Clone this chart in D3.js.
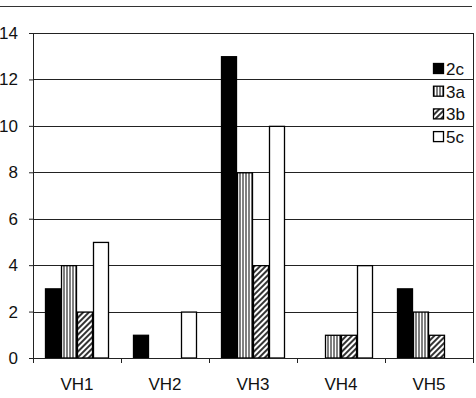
<!DOCTYPE html>
<html>
<head>
<meta charset="utf-8">
<script src="https://cdn.jsdelivr.net/npm/d3@7"></script>
<style>
  body { margin: 0; background: #fff; }
  text { font-family: "Liberation Sans", Arial, sans-serif; }
</style>
</head>
<body>
<div id="chart"></div>
<script>
// categories and series
var categories = ["VH1", "VH2", "VH3", "VH4", "VH5"];
var seriesNames = ["2c", "3a", "3b", "5c"];
var s2c = [3, 1, 13, 0, 3];
var s3a = [4, 0, 8, 1, 2];
var s3b = [2, 0, 4, 1, 1];
var s5c = [5, 2, 10, 4, 0];
var yTicks = [0, 2, 4, 6, 8, 10, 12, 14];

var seriesValues = [s2c, s3a, s3b, s5c];
var fills = ["#000", "url(#vert)", "url(#diag)", "#fff"];

var W = 476, H = 398;
var margin = {top: 33, right: 3, bottom: 40, left: 33},
    width = W - margin.left - margin.right,
    height = H - margin.top - margin.bottom;

var svg = d3.select("#chart")
  .append("svg")
    .attr("width", W)
    .attr("height", H);

// patterns
var defs = svg.append("defs");
var pv = defs.append("pattern")
    .attr("id", "vert")
    .attr("patternUnits", "userSpaceOnUse")
    .attr("width", 3).attr("height", 3);
pv.append("rect").attr("width", 3).attr("height", 3).attr("fill", "#fff");
pv.append("line").attr("x1", 1).attr("x2", 1).attr("y1", 0).attr("y2", 3)
    .attr("stroke", "#000").attr("stroke-width", 1);

var pd = defs.append("pattern")
    .attr("id", "diag")
    .attr("patternUnits", "userSpaceOnUse")
    .attr("width", 4).attr("height", 4)
    .attr("patternTransform", "rotate(45)");
pd.append("rect").attr("width", 4).attr("height", 4).attr("fill", "#fff");
pd.append("line").attr("x1", 1).attr("x2", 1).attr("y1", 0).attr("y2", 4)
    .attr("stroke", "#000").attr("stroke-width", 1.6);

// page rule at top
svg.append("line")
  .attr("x1", 0).attr("x2", 472)
  .attr("y1", 6.5).attr("y2", 6.5)
  .attr("stroke", "#333").attr("stroke-width", 1);

var g = svg.append("g")
  .attr("transform", "translate(" + margin.left + "," + margin.top + ")");

var x = d3.scaleBand()
  .domain(categories)
  .range([0, width])
  .paddingInner(0)
  .paddingOuter(0);

var x1 = d3.scaleBand()
  .domain(seriesNames)
  .range([12, x.bandwidth() - 12]);

var y = d3.scaleLinear()
  .domain([0, 14])
  .range([height, 0]);

// gridlines
g.append("g")
  .selectAll("line")
  .data(yTicks)
  .enter()
  .append("line")
    .attr("x1", 0).attr("x2", width)
    .attr("y1", function (d) { return Math.round(y(d)) + 0.5; })
    .attr("y2", function (d) { return Math.round(y(d)) + 0.5; })
    .attr("stroke", "#222").attr("stroke-width", 1);

// right border
g.append("line")
  .attr("x1", width + 0.5).attr("x2", width + 0.5)
  .attr("y1", 0).attr("y2", height)
  .attr("stroke", "#222");

// bars
var groups = g.append("g")
  .selectAll("g")
  .data(categories)
  .enter()
  .append("g")
    .attr("transform", function (d) { return "translate(" + x(d) + ",0)"; });

groups.selectAll("rect")
  .data(function (d, i) {
    return seriesNames.map(function (s, j) {
      return {name: s, value: seriesValues[j][i], fill: fills[j]};
    });
  })
  .enter()
  .filter(function (d) { return d.value > 0; })
  .append("rect")
    .attr("x", function (d) { return x1(d.name) + 0.5; })
    .attr("y", function (d) { return y(d.value) + 0.5; })
    .attr("width", x1.bandwidth() - 1)
    .attr("height", function (d) { return height - y(d.value) - 0.5; })
    .attr("fill", function (d) { return d.fill; })
    .attr("stroke", "#000")
    .attr("stroke-width", 1.3);

// axes
var yAxis = g.append("g")
  .call(d3.axisLeft(y).tickValues(yTicks).tickSize(4).tickPadding(12));
yAxis.select(".domain").attr("stroke", "#222");
yAxis.selectAll("line").attr("stroke", "#222");
yAxis.selectAll("text")
  .attr("font-size", 17).attr("fill", "#111")
  .attr("text-anchor", "end")
  .attr("x", -15);

var xAxis = g.append("g")
  .attr("transform", "translate(0," + height + ")")
  .call(d3.axisBottom(x).tickSize(0).tickPadding(20));
xAxis.select(".domain").attr("stroke", "#222");
xAxis.selectAll("text").attr("font-size", 17).attr("fill", "#111");

// category boundary ticks
xAxis.append("g")
  .selectAll("line")
  .data(categories.concat(["end"]))
  .enter()
  .append("line")
    .attr("x1", function (d, i) { return i * x.bandwidth() + 0.5; })
    .attr("x2", function (d, i) { return i * x.bandwidth() + 0.5; })
    .attr("y1", 0).attr("y2", 5)
    .attr("stroke", "#222");

// legend
var legend = svg.append("g")
  .attr("transform", "translate(433,63)");

var li = legend.selectAll("g")
  .data(seriesNames)
  .enter()
  .append("g")
    .attr("transform", function (d, i) { return "translate(0," + (i * 22.7) + ")"; });

li.append("rect")
  .attr("x", 0.5).attr("y", 0.5)
  .attr("width", 10).attr("height", 10)
  .attr("fill", function (d, i) { return fills[i]; })
  .attr("stroke", "#000").attr("stroke-width", 1.3);

li.append("text")
  .attr("x", 13).attr("y", 12)
  .attr("font-size", 17)
  .attr("fill", "#111")
  .text(function (d) { return d; });
</script>
</body>
</html>
